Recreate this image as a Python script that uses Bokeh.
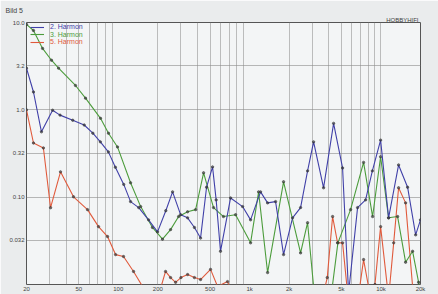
from bokeh.plotting import figure
from bokeh.models import Range1d, FixedTicker, Legend, LegendItem, Title
from bokeh.embed import file_html
from bokeh.resources import INLINE

# 2nd harmonic (%)
h2_freq = [20, 22.6, 26, 31.6, 36, 45, 55, 64, 73, 84, 95, 110, 124, 143, 170, 199,
           230, 259, 298, 337, 380, 423, 470, 522, 556, 600, 716, 884, 1017, 1211,
           1370, 1576, 1813, 2123, 2443, 2762, 3069, 3656, 4358, 5101, 5668, 6636,
           7638, 8600, 9937, 11430, 13620, 15950, 18370, 20000]
h2_val = [3.0, 1.6, 0.56, 0.99, 0.87, 0.76, 0.67, 0.54, 0.43, 0.33, 0.22, 0.14,
          0.089, 0.076, 0.055, 0.040, 0.07, 0.115, 0.063, 0.058, 0.045, 0.034, 0.13,
          0.222, 0.093, 0.024, 0.098, 0.078, 0.055, 0.115, 0.086, 0.089, 0.022, 0.058,
          0.076, 0.2, 0.43, 0.128, 0.70, 0.216, 0.008, 0.076, 0.093, 0.2, 0.45, 0.058,
          0.234, 0.13, 0.037, 0.055]

# 3rd harmonic (%)
h3_freq = [20, 22.6, 26.5, 31, 35.1, 47.2, 56.3, 73.2, 84.2, 98.6, 124, 148, 182,
           217, 250, 288, 337, 388, 446, 531, 632, 782, 1017, 1170, 1370, 1813, 2443,
           2762, 3069, 3400, 4100, 4700, 5870, 7373, 8636, 9937, 11430, 13390, 15400,
           17420, 19350, 20000]
h3_val = [9.5, 8.1, 5.05, 3.7, 3.0, 1.9, 1.36, 0.80, 0.54, 0.376, 0.146, 0.078,
          0.045, 0.033, 0.0425, 0.060, 0.068, 0.072, 0.19, 0.076, 0.060, 0.063, 0.030,
          0.115, 0.0137, 0.150, 0.023, 0.051, 0.0095, 0.005, 0.006, 0.03, 0.072, 0.25,
          0.06, 0.29, 0.058, 0.06, 0.018, 0.024, 0.0106, 0.008]

# 5th harmonic (%)
h5_freq = [20, 22.6, 26.9, 30.5, 36.3, 45.6, 58.3, 70.7, 82.8, 95.3, 109.6, 130.6,
           152.9, 180, 205, 229, 250, 273, 300, 337, 380, 423, 504, 570, 679, 760,
           1000, 2000, 3400, 3900, 4283, 4674, 5101, 5569, 6500, 7373, 8337, 9000,
           9937, 11430, 12500, 13620, 15400, 17710, 20000]
h5_val = [1.0, 0.417, 0.366, 0.0757, 0.195, 0.101, 0.072, 0.046, 0.0354, 0.022,
          0.0209, 0.0141, 0.0095, 0.006, 0.008, 0.0141, 0.012, 0.0106, 0.012, 0.013,
          0.012, 0.0114, 0.0149, 0.0095, 0.0108, 0.007, 0.004, 0.004, 0.005, 0.012,
          0.06, 0.030, 0.030, 0.008, 0.005, 0.0193, 0.007, 0.01, 0.046, 0.007, 0.03,
          0.128, 0.086, 0.007, 0.004]

series_labels = ["2. Harmon", "3. Harmon", "5. Harmon"]
series_colors = ["#4040a8", "#4c9c3c", "#e05a3c"]

x_ticks = [20, 50, 100, 200, 500, 1000, 2000, 5000, 10000, 20000]
x_tick_labels = ["20", "50", "100", "200", "500", "1k", "2k", "5k", "10k", "20k"]
y_ticks = [0.032, 0.1, 0.32, 1.0, 3.2, 10.0]
y_tick_labels = ["0.032", "0.10", "0.32", "1.0", "3.2", "10.0"]
x_grid = [m * d for d in (10, 100, 1000) for m in range(2, 10)] + [10000, 20000]
x_grid = [g for g in x_grid if 20 <= g <= 20000]
y_grid = [0.032, 0.1, 0.32, 1.0, 3.2]

p = figure(width=438, height=294, x_axis_type="log", y_axis_type="log",
           x_range=Range1d(20, 20000), y_range=Range1d(0.01, 10),
           output_backend="svg", toolbar_location=None,
           min_border_left=26, min_border_right=18, min_border_top=22,
           min_border_bottom=8)
p.background_fill_color = "#f3f5f6"
p.border_fill_color = "#eaeced"
p.outline_line_color = "#555555"
p.outline_line_width = 1

p.title.text = "Bild 5"
p.title.align = "left"
p.title.offset = -21
p.title.standoff = 1
p.title.text_font = "Liberation Sans"
p.title.text_font_size = "7px"
p.title.text_font_style = "normal"
p.title.text_color = "#444444"
p.add_layout(Title(text="HOBBYHIFI", align="right", standoff=0, offset=2,
                   text_font="Liberation Sans", text_font_size="6px",
                   text_font_style="normal", text_color="#444444"), "above")

for ax in (p.xaxis[0], p.yaxis[0]):
    ax.axis_line_color = None
    ax.major_tick_line_color = None
    ax.minor_tick_line_color = None
    ax.major_tick_out = 0
    ax.major_tick_in = 0
    ax.minor_tick_out = 0
    ax.minor_tick_in = 0
    ax.major_label_text_font = "Liberation Sans"
    ax.major_label_text_font_size = "6px"
    ax.major_label_text_color = "#444444"
p.xaxis.major_label_standoff = 1
p.yaxis.major_label_standoff = 2

p.xaxis.ticker = FixedTicker(ticks=x_ticks)
p.xaxis.major_label_overrides = {t: l for t, l in zip(x_ticks, x_tick_labels)}
p.yaxis.ticker = FixedTicker(ticks=y_ticks)
p.yaxis.major_label_overrides = {t: l for t, l in zip(y_ticks, y_tick_labels)}

p.xgrid.ticker = FixedTicker(ticks=x_grid)
p.xgrid.grid_line_color = "#8c8c8c"
p.xgrid.grid_line_alpha = 0.55
p.ygrid.ticker = FixedTicker(ticks=y_grid)
p.ygrid.grid_line_color = "#8c8c8c"
p.ygrid.grid_line_alpha = 0.6

renderers = []
for fx, vy, c in ((h5_freq, h5_val, series_colors[2]),
                  (h3_freq, h3_val, series_colors[1]),
                  (h2_freq, h2_val, series_colors[0])):
    r = p.line(fx, vy, line_color=c, line_width=1.1)
    p.scatter(fx, vy, size=2.4, color="#333333", alpha=0.6)
    renderers.append(r)
renderers = renderers[::-1]

for i, (lab, c, r) in enumerate(zip(series_labels, series_colors, renderers)):
    lg = Legend(items=[LegendItem(label=lab, renderers=[r])],
                location=(4, 254 - i * 7.5), orientation="vertical",
                background_fill_alpha=0, border_line_alpha=0,
                label_text_color=c, label_text_font="Liberation Sans",
                label_text_font_size="7px", glyph_width=14, glyph_height=6,
                label_height=6, label_standoff=6, padding=0, margin=0, spacing=0)
    p.add_layout(lg)

open("out.html", "w").write(file_html(p, INLINE))
